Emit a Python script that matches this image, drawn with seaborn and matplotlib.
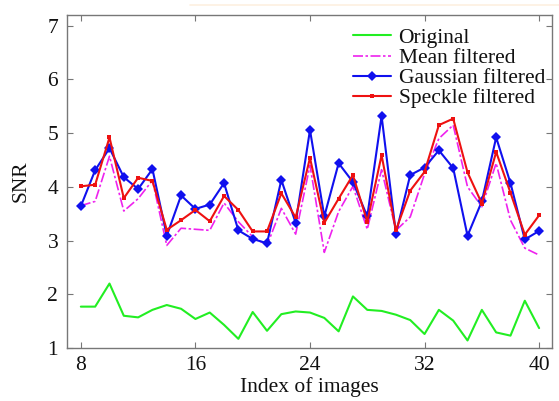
import matplotlib
matplotlib.use("Agg")
import matplotlib.pyplot as plt
import seaborn as sns
import numpy as np
import pandas as pd

image_index = list(range(8, 41))
original = [1.77, 1.77, 2.20, 1.60, 1.57, 1.71, 1.80, 1.73, 1.54, 1.66, 1.43, 1.17,
            1.67, 1.32, 1.63, 1.68, 1.66, 1.56, 1.31, 1.96, 1.71, 1.69, 1.62, 1.52,
            1.26, 1.71, 1.51, 1.14, 1.71, 1.29, 1.23, 1.88, 1.37]
mean_filtered = [3.65, 3.73, 4.57, 3.55, 3.78, 4.12, 2.91, 3.23, 3.21, 3.19, 3.70, 3.35,
                 3.07, 2.91, 3.60, 3.12, 4.40, 2.78, 3.54, 4.01, 3.21, 4.32, 3.19, 3.44,
                 4.24, 4.90, 5.15, 4.00, 3.63, 4.44, 3.38, 2.86, 2.73]
gaussian_filtered = [3.64, 4.31, 4.72, 4.18, 3.96, 4.33, 3.09, 3.84, 3.59, 3.67, 4.07, 3.19,
                     3.03, 2.95, 4.13, 3.33, 5.06, 3.45, 4.44, 4.09, 3.45, 5.32, 3.13, 4.22,
                     4.36, 4.68, 4.35, 3.09, 3.73, 4.92, 4.07, 3.02, 3.18]
speckle_filtered = [4.01, 4.04, 4.92, 3.79, 4.17, 4.11, 3.20, 3.38, 3.57, 3.36, 3.83, 3.57,
                    3.17, 3.17, 3.88, 3.43, 4.54, 3.33, 3.78, 4.22, 3.35, 4.59, 3.19, 3.93,
                    4.28, 5.15, 5.27, 4.27, 3.69, 4.65, 3.89, 3.11, 3.47]
series_names = ["Original", "Mean filtered", "Gaussian filtered", "Speckle filtered"]
x_ticks = [8, 16, 24, 32, 40]
y_ticks = [1, 2, 3, 4, 5, 6, 7]

sns.set_theme(style="white")
plt.rcParams['font.family'] = ['Liberation Serif', 'DejaVu Serif']

fig = plt.figure(figsize=(5.59, 4.01), dpi=100)
ax = fig.add_axes([0.119, 0.1322, 0.8685, 0.8304])

sns.lineplot(x=image_index, y=original, ax=ax, color="#22ee22", lw=1.5,
             label=series_names[0])
sns.lineplot(x=image_index, y=mean_filtered, ax=ax, color="#ee22ee", lw=1.2,
             label=series_names[1])
ax.lines[-1].set_dashes([6, 1.5, 1.5, 1.5])
sns.lineplot(x=image_index, y=gaussian_filtered, ax=ax, color="#1010ee", lw=1.5,
             marker="D", markersize=5.5, markeredgewidth=0, label=series_names[2])
sns.lineplot(x=image_index, y=speckle_filtered, ax=ax, color="#ee1111", lw=1.5,
             marker="s", markersize=3.5, markeredgewidth=0, label=series_names[3])

ax.set_xlim(7.0, 40.9)
ax.set_ylim(1.0, 7.2)
ax.set_xticks(x_ticks)
ax.set_yticks(y_ticks)
ax.set_xlabel("Index of images", fontsize=15.5, labelpad=1, color="#111111")
ax.set_ylabel("SNR", fontsize=15.5, labelpad=12, color="#111111")
ax.tick_params(direction="in", length=4, width=0.8, color="#777777",
               labelsize=15.5, labelcolor="#111111",
               top=True, right=True, bottom=True, left=True, pad=6)
for s in ax.spines.values():
    s.set_color("#777777")
    s.set_linewidth(1.0)

leg = ax.legend(loc="upper right", frameon=False, fontsize=15.5, labelspacing=0.0,
                handlelength=1.75, handletextpad=0.35, borderaxespad=0.2,
                bbox_to_anchor=(1.012, 1.0))
for t in leg.get_texts():
    t.set_color("#111111")

# faint line at the very top of the figure
fig.add_artist(plt.Line2D([0.34, 1.0], [0.988, 0.988], color="#fdf0e0", lw=1.2,
                          transform=fig.transFigure))

fig.savefig("out.png", dpi=100)
